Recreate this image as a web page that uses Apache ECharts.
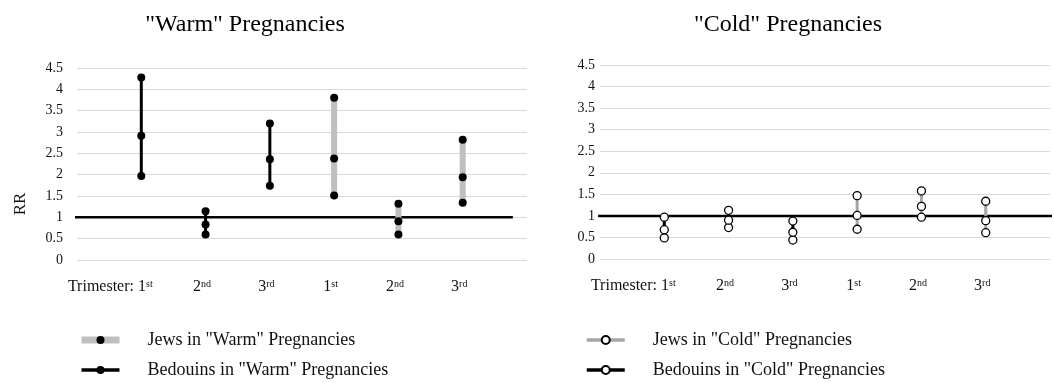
<!DOCTYPE html>
<html>
<head>
<meta charset="utf-8">
<script src="https://cdn.jsdelivr.net/npm/echarts@6/dist/echarts.min.js"></script>
<style>
html, body { margin: 0; padding: 0; background: #fff; }
#chart { width: 1054px; height: 383px; }
</style>
</head>
<body>
<div id="chart"></div>
<script>
// tick labels under positions 1..6
const categories = ['1st', '2nd', '3rd', '1st', '2nd', '3rd'];
const bedouinPos = [1, 2, 3];
const jewsPos = [4, 5, 6];

// "Warm" pregnancies: RR with lower / point / upper
const warmBedouinLow = [1.97, 0.60, 1.74];
const warmBedouinMid = [2.91, 0.83, 2.36];
const warmBedouinHigh = [4.28, 1.14, 3.20];
const warmJewsLow = [1.51, 0.60, 1.34];
const warmJewsMid = [2.38, 0.91, 1.94];
const warmJewsHigh = [3.80, 1.32, 2.82];

// "Cold" pregnancies
const coldBedouinLow = [0.49, 0.73, 0.44];
const coldBedouinMid = [0.68, 0.90, 0.62];
const coldBedouinHigh = [0.97, 1.13, 0.88];
const coldJewsLow = [0.69, 0.97, 0.61];
const coldJewsMid = [1.01, 1.22, 0.89];
const coldJewsHigh = [1.47, 1.58, 1.34];

// RR = 1 reference line ends (x axis units)
const warmRefX = [-0.29, 6.78];
const coldRefX = [-0.03, 7.1];

const serif = 'Liberation Serif';

function whisker(pos, low, mid, high) {
	const out = [];
	pos.forEach((x, i) => {
		out.push([x, low[i]], [x, mid[i]], [x, high[i]], '-');
	});
	return out;
}

function xLabel(v) {
	if (v < 1 || v > 6) return '';
	const c = categories[v - 1];
	const first = v === 1;
	return (first ? '{t|Trimester: }' : '') + '{n|' + c[0] + '}{s|' + c.slice(1) + '}' + (first ? '{w|}' : '{p|}');
}

function makeX(gridIndex) {
	return {
		gridIndex: gridIndex,
		type: 'value',
		min: 0,
		max: 7,
		interval: 1,
		axisLine: { show: false },
		axisTick: { show: false },
		splitLine: { show: false },
		axisLabel: {
			margin: 19,
			showMinLabel: true,
			showMaxLabel: true,
			formatter: xLabel,
			rich: {
				t: { fontFamily: serif, fontSize: 16, color: '#111' },
				n: { fontFamily: serif, fontSize: 16, color: '#111' },
				s: { fontFamily: serif, fontSize: 10, color: '#111', verticalAlign: 'top' },
				w: { width: 62 },
				p: { width: 7 }
			}
		}
	};
}

function makeY(gridIndex, margin, name) {
	return {
		gridIndex: gridIndex,
		type: 'value',
		min: 0,
		max: 4.5,
		interval: 0.5,
		name: name,
		nameLocation: 'middle',
		nameRotate: 90,
		nameGap: 48,
		nameTextStyle: { fontFamily: serif, fontSize: 17, color: '#111', padding: [0, 80, 0, 0] },
		axisLine: { show: false },
		axisTick: { show: false },
		axisLabel: { margin: margin, fontFamily: serif, fontSize: 14, color: '#111' },
		splitLine: { lineStyle: { color: '#d9d9d9', width: 1 } }
	};
}

const legendText = { fontFamily: serif, fontSize: 18, color: '#111', padding: [0, 0, 0, 23] };

const chart = echarts.init(document.getElementById('chart'));

const option = {
	animation: false,
	backgroundColor: '#fff',
	title: [
		{ text: '"Warm" Pregnancies', left: 240, top: 8, textAlign: 'center',
			textStyle: { fontFamily: serif, fontSize: 24, fontWeight: 'normal', color: '#000' } },
		{ text: '"Cold" Pregnancies', left: 783, top: 8, textAlign: 'center',
			textStyle: { fontFamily: serif, fontSize: 24, fontWeight: 'normal', color: '#000' } }
	],
	grid: [
		{ left: 77, top: 68, width: 450, height: 192, outerBoundsMode: 'none' },
		{ left: 600, top: 65, width: 450, height: 194, outerBoundsMode: 'none' }
	],
	xAxis: [makeX(0), makeX(1)],
	yAxis: [makeY(0, 14, 'RR'), makeY(1, 5, '')],
	legend: [
		{
			data: [
				{ name: 'Jews in "Warm" Pregnancies', lineStyle: { width: 7 } },
				{ name: 'Bedouins in "Warm" Pregnancies', lineStyle: { width: 3.5 } }
			],
			orient: 'vertical', left: 78, top: 331, padding: 0,
			itemWidth: 38, itemHeight: 10, itemGap: 12,
			selectedMode: false,
			textStyle: legendText
		},
		{
			data: [
				{ name: 'Jews in "Cold" Pregnancies', lineStyle: { width: 3.5 } },
				{ name: 'Bedouins in "Cold" Pregnancies', lineStyle: { width: 3.5 } }
			],
			orient: 'vertical', left: 585, top: 331, padding: 0,
			itemWidth: 38, itemHeight: 10, itemGap: 12,
			selectedMode: false,
			textStyle: legendText
		}
	],
	series: [
		{
			name: 'ref warm', type: 'line', xAxisIndex: 0, yAxisIndex: 0,
			data: warmRefX.map(x => [x, 1]), clip: false, symbol: 'none', silent: true,
			lineStyle: { color: '#000', width: 2.5 }
		},
		{
			name: 'ref cold', type: 'line', xAxisIndex: 1, yAxisIndex: 1,
			data: coldRefX.map(x => [x, 1]), clip: false, symbol: 'none', silent: true,
			lineStyle: { color: '#000', width: 2.5 }
		},
		{
			name: 'Jews in "Warm" Pregnancies', type: 'line', xAxisIndex: 0, yAxisIndex: 0,
			data: whisker(jewsPos, warmJewsLow, warmJewsMid, warmJewsHigh),
			symbol: 'circle', symbolSize: 8,
			itemStyle: { color: '#000' },
			lineStyle: { color: '#bfbfbf', width: 6 }
		},
		{
			name: 'Bedouins in "Warm" Pregnancies', type: 'line', xAxisIndex: 0, yAxisIndex: 0,
			data: whisker(bedouinPos, warmBedouinLow, warmBedouinMid, warmBedouinHigh),
			symbol: 'circle', symbolSize: 8,
			itemStyle: { color: '#000' },
			lineStyle: { color: '#000', width: 3 }
		},
		{
			name: 'Jews in "Cold" Pregnancies', type: 'line', xAxisIndex: 1, yAxisIndex: 1,
			data: whisker(jewsPos, coldJewsLow, coldJewsMid, coldJewsHigh),
			symbol: 'circle', symbolSize: 8,
			itemStyle: { color: '#fff', borderColor: '#000', borderWidth: 1.3 },
			lineStyle: { color: '#a6a6a6', width: 3 }
		},
		{
			name: 'Bedouins in "Cold" Pregnancies', type: 'line', xAxisIndex: 1, yAxisIndex: 1,
			data: whisker(bedouinPos, coldBedouinLow, coldBedouinMid, coldBedouinHigh),
			symbol: 'circle', symbolSize: 8,
			itemStyle: { color: '#fff', borderColor: '#000', borderWidth: 1.3 },
			lineStyle: { color: '#000', width: 3 }
		}
	]
};

chart.setOption(option);
</script>
</body>
</html>
